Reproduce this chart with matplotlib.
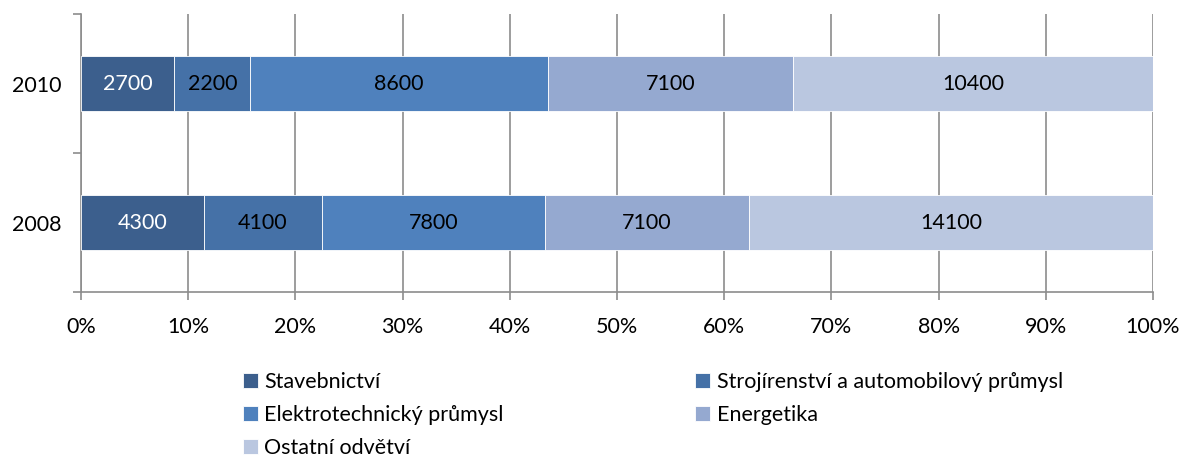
import matplotlib.pyplot as plt
import numpy as np

plt.rcParams['font.family'] = ['Lato', 'DejaVu Sans']

years = ['2008', '2010']
sectors = ['Stavebnictví', 'Strojírenství a automobilový průmysl',
           'Elektrotechnický průmysl', 'Energetika', 'Ostatní odvětví']
values = {
    'Stavebnictví': [4300, 2700],
    'Strojírenství a automobilový průmysl': [4100, 2200],
    'Elektrotechnický průmysl': [7800, 8600],
    'Energetika': [7100, 7100],
    'Ostatní odvětví': [14100, 10400],
}
colors = ['#3c5f8d', '#4571a7', '#4f81bd', '#95a9d0', '#bac7e0']
label_colors = ['white', 'black', 'black', 'black', 'black']

fs = 15.5

fig = plt.figure(figsize=(11.84, 4.59), dpi=100)
ax = fig.add_axes([0.0684, 0.3638, 0.9054, 0.6057])

data = np.array([values[s] for s in sectors], dtype=float)
totals = data.sum(axis=0)
shares = data / totals * 100
y = np.arange(len(years))

left = np.zeros(len(years))
handles = []
for i, s in enumerate(sectors):
    b = ax.barh(y, shares[i], left=left, height=0.4, color=colors[i],
                edgecolor='white', linewidth=0.6, label=s, zorder=3)
    handles.append(b)
    for j in range(len(years)):
        ax.text(left[j] + shares[i][j] / 2, y[j], '%d' % data[i][j],
                ha='center', va='center', fontsize=fs,
                color=label_colors[i], zorder=4)
    left += shares[i]

ax.set_xlim(0, 100)
ax.set_ylim(-0.5, 1.5)
ax.set_xticks(np.arange(0, 101, 10))
ax.set_xticklabels(['%d%%' % v for v in range(0, 101, 10)], fontsize=fs)
ax.xaxis.grid(True, color='#8c8c8c', linewidth=1.2, zorder=0)

ax.set_yticks([-0.5, 0.5, 1.5])
ax.set_yticklabels([])
ax.set_yticks(y, minor=True)
ax.set_yticklabels(years, minor=True, fontsize=fs)
ax.tick_params(axis='y', which='minor', length=0, pad=14)
ax.tick_params(axis='y', which='major', length=6, width=1.2, color='#8c8c8c')
ax.tick_params(axis='x', length=6, width=1.2, color='#8c8c8c', pad=12)

for sp in ['top', 'right']:
    ax.spines[sp].set_visible(False)
for sp in ['left', 'bottom']:
    ax.spines[sp].set_color('#8c8c8c')
    ax.spines[sp].set_linewidth(1.2)

order = [0, 2, 4, 1, 3]
fig.legend([handles[k] for k in order], [sectors[k] for k in order],
           ncol=2, loc='upper left', bbox_to_anchor=(0.205, 0.19),
           frameon=False, fontsize=fs, handlelength=0.7, handleheight=0.7,
           handletextpad=0.3, columnspacing=8.9, labelspacing=0.6,
           borderaxespad=0, borderpad=0)

fig.savefig('out.png', dpi=100)
